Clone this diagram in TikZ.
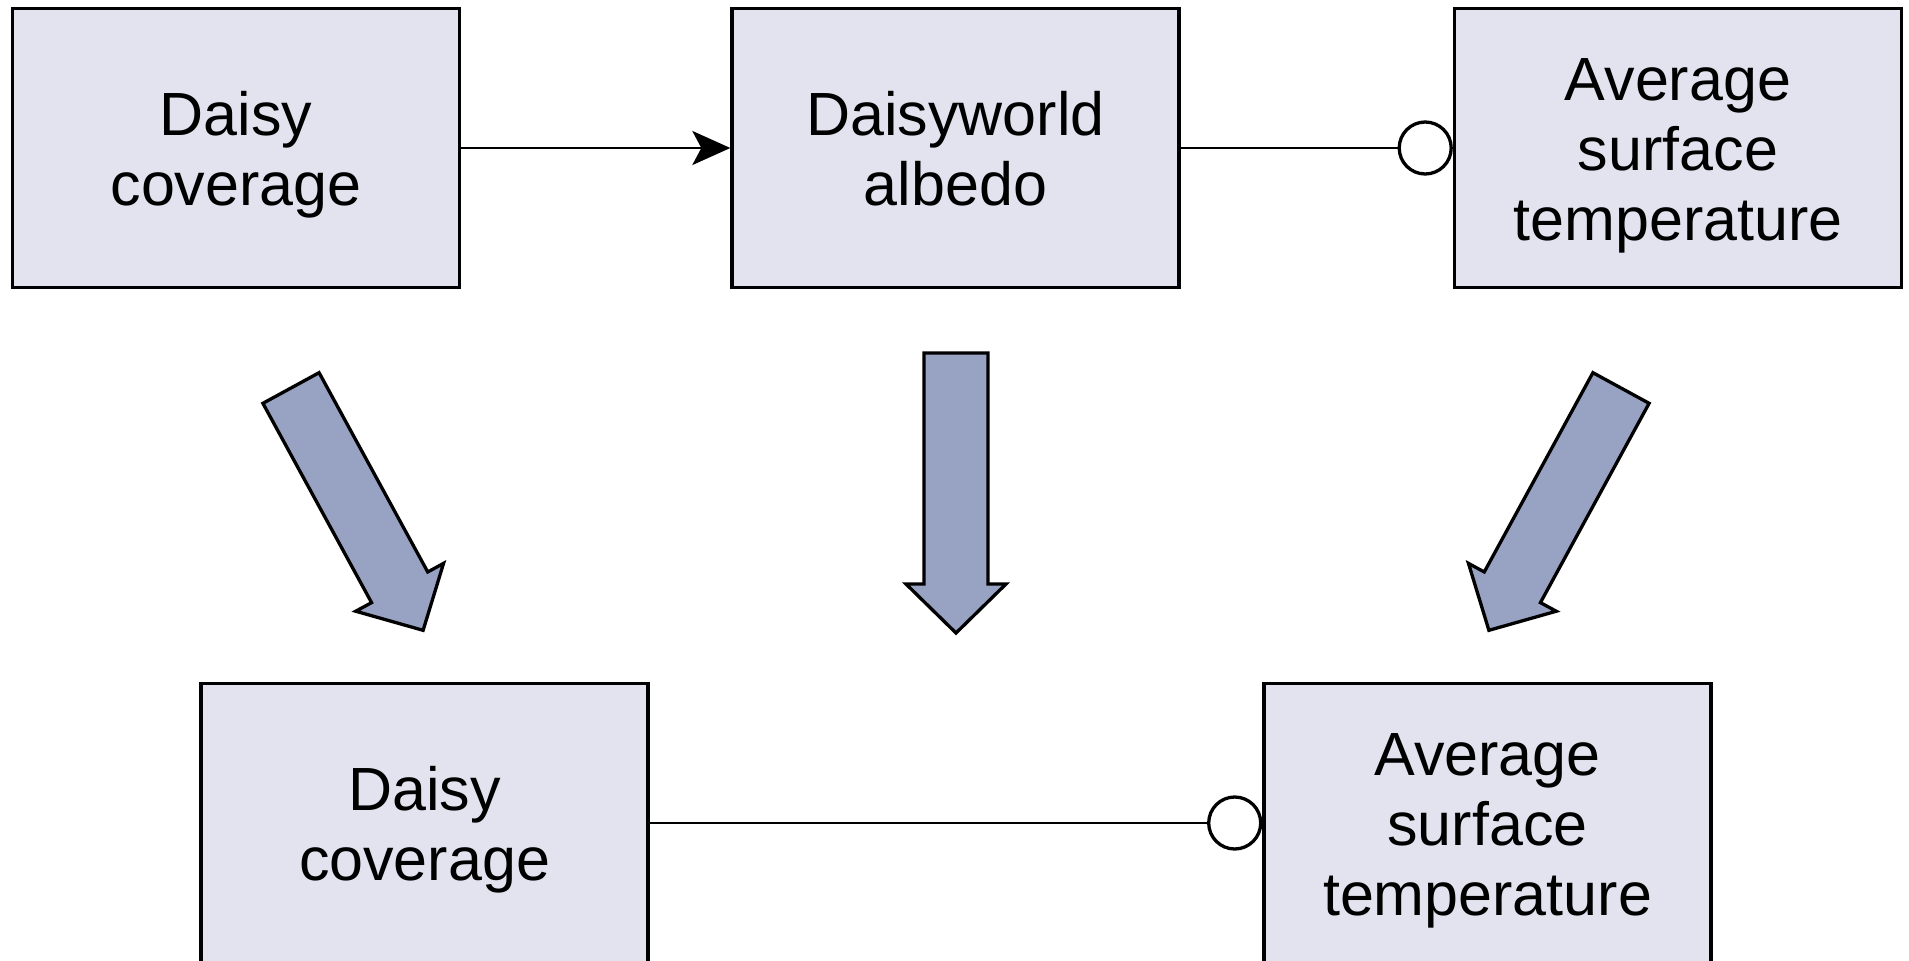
\documentclass[tikz,border=0pt]{standalone}
\usepackage{fontspec}
\setmainfont{Liberation Sans}
\usetikzlibrary{arrows.meta}
\definecolor{boxfill}{RGB}{226,227,238}
\definecolor{arrowfill}{RGB}{152,163,196}
\tikzset{
  box/.style={draw=black, line width=3.3pt, fill=boxfill, rectangle,
    minimum width=447pt, minimum height=279pt, inner sep=0pt, align=center,
    font=\fontsize{61}{70}\selectfont},
  conn/.style={draw=black, line width=2.7pt},
  circ/.style={draw=black, line width=3.3pt, fill=white, circle, minimum size=52pt, inner sep=0pt},
  blockarrow/.style={draw=black, line width=3.3pt, fill=arrowfill, line join=miter}
}
\newcommand{\boxtxt}[1]{\begin{tabular}{@{}c@{}}\rule{0pt}{66pt}#1\end{tabular}}
\newcommand{\blockarr}[3]{%
  \begin{scope}[shift={#1}, rotate=#2]
    \draw[blockarrow] (0,-32) -- ({#3-49},-32) -- ({#3-49},-50) -- (#3,0) -- ({#3-49},50) -- ({#3-49},32) -- (0,32) -- cycle;
  \end{scope}}
\begin{document}
\begin{tikzpicture}[x=1pt, y=-1pt]
\useasboundingbox (0,0) rectangle (1909,961);
\node[box] (b1) at (236,148) {\boxtxt{Daisy\\coverage}};
\node[box] (b2) at (955.5,148) {\boxtxt{Daisyworld\\albedo}};
\node[box] (b3) at (1678,148) {\boxtxt{Average\\surface\\temperature}};
\node[box] (b4) at (424.5,823) {\boxtxt{Daisy\\coverage}};
\node[box] (b5) at (1487.5,823) {\boxtxt{Average\\surface\\temperature}};
\node[circ, anchor=east] (c1) at (b3.west) {};
\node[circ, anchor=east] (c2) at (b5.west) {};
\draw[conn, -{Stealth[length=38pt, width=34pt, inset=9pt]}] (b1.east) -- (b2.west);
\draw[conn] (b2.east) -- (c1.west);
\draw[conn] (b4.east) -- (c2.west);
\blockarr{(291,388)}{-61.4}{276}
\blockarr{(956,353)}{-90}{280}
\blockarr{(1621,388)}{-118.6}{276}
\end{tikzpicture}
\end{document}
